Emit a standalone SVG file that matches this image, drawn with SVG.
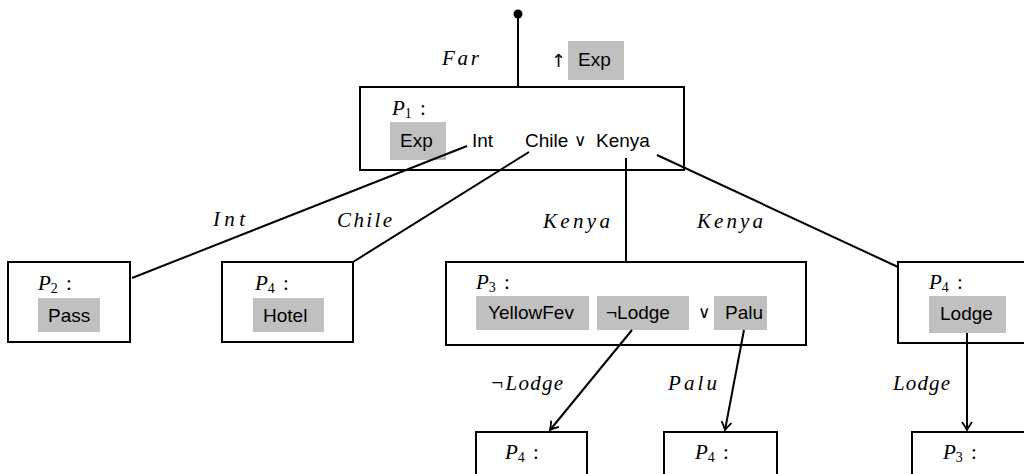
<svg xmlns="http://www.w3.org/2000/svg" width="1024" height="474" viewBox="0 0 1024 474">
<style>
.box{fill:#fff;stroke:#000;stroke-width:2}
.g{fill:#c0c0c0;stroke:none}
.s{font-family:"Liberation Sans",Arial,sans-serif;font-size:19px;fill:#000}
.m{font-family:"Liberation Serif","Times New Roman",serif;font-style:italic;font-size:21px;fill:#000}
.p{font-family:"Liberation Serif","Times New Roman",serif;font-size:21px;fill:#000}
.sub{font-size:14px}
.or{font-family:"DejaVu Sans",sans-serif;font-size:17px}
.e{stroke:#000;stroke-width:2;fill:none}
</style>
<defs>
<marker id="arr" markerUnits="userSpaceOnUse" markerWidth="16" markerHeight="16" viewBox="-10 -8 12 16" refX="0" refY="0" orient="auto">
<path d="M-8,-5 Q-3,-1.5 0,0 Q-3,1.5 -8,5" fill="none" stroke="#000" stroke-width="1.8"/>
</marker>
</defs>
<rect width="1024" height="474" fill="#fff"/>

<g id="P1">
<rect class="box" x="360" y="87" width="324" height="83"/>
<text class="p" x="392" y="115"><tspan font-style="italic">P</tspan><tspan class="sub" dy="3">1</tspan><tspan x="420" dy="-3">:</tspan></text>
<rect class="g" x="390" y="122" width="56" height="38"/>
<text class="s" x="400" y="147">Exp</text>
<text class="s" x="472" y="147">Int</text>
<text class="s" x="525" y="147">Chile</text>
<text class="or" x="574" y="146">∨</text>
<text class="s" x="596" y="147">Kenya</text>
</g>

<g id="P2">
<rect class="box" x="8" y="262" width="122" height="80"/>
<text class="p" x="38" y="290"><tspan font-style="italic">P</tspan><tspan class="sub" dy="3">2</tspan><tspan x="66" dy="-3">:</tspan></text>
<rect class="g" x="38" y="298" width="62" height="34"/>
<text class="s" x="48" y="322">Pass</text>
</g>

<g id="P4_hotel">
<rect class="box" x="222" y="262" width="131" height="80"/>
<text class="p" x="255" y="290"><tspan font-style="italic">P</tspan><tspan class="sub" dy="3">4</tspan><tspan x="283" dy="-3">:</tspan></text>
<rect class="g" x="253" y="298" width="71" height="34"/>
<text class="s" x="263" y="322">Hotel</text>
</g>

<g id="P3">
<rect class="box" x="446" y="262" width="360" height="83"/>
<text class="p" x="476" y="289"><tspan font-style="italic">P</tspan><tspan class="sub" dy="3">3</tspan><tspan x="504" dy="-3">:</tspan></text>
<rect class="g" x="476" y="296" width="113" height="34"/>
<text class="s" x="488" y="319">YellowFev</text>
<rect class="g" x="597" y="296" width="92" height="34"/>
<text class="s" x="606" y="319">¬Lodge</text>
<text class="or" x="698" y="318">∨</text>
<rect class="g" x="714" y="296" width="53" height="34"/>
<text class="s" x="725" y="319">Palu</text>
</g>

<g id="P4_lodge">
<rect class="box" x="898" y="262" width="140" height="81"/>
<text class="p" x="929" y="289"><tspan font-style="italic">P</tspan><tspan class="sub" dy="3">4</tspan><tspan x="957" dy="-3">:</tspan></text>
<rect class="g" x="929" y="296" width="77" height="37"/>
<text class="s" x="940" y="320">Lodge</text>
</g>

<g id="P4_a">
<rect class="box" x="476" y="432" width="111" height="60"/>
<text class="p" x="505" y="459"><tspan font-style="italic">P</tspan><tspan class="sub" dy="3">4</tspan><tspan x="533" dy="-3">:</tspan></text>
</g>

<g id="P4_b">
<rect class="box" x="664" y="432" width="113" height="60"/>
<text class="p" x="695" y="459"><tspan font-style="italic">P</tspan><tspan class="sub" dy="3">4</tspan><tspan x="723" dy="-3">:</tspan></text>
</g>

<g id="P3_b">
<rect class="box" x="912" y="432" width="130" height="60"/>
<text class="p" x="943" y="459"><tspan font-style="italic">P</tspan><tspan class="sub" dy="3">3</tspan><tspan x="971" dy="-3">:</tspan></text>
</g>

<g id="connectors">
<circle cx="518" cy="14" r="4.5" fill="#000"/>
<line class="e" x1="518" y1="14" x2="518" y2="87"/>
<line class="e" x1="467" y1="146" x2="132" y2="278"/>
<line class="e" x1="529" y1="152" x2="353" y2="262"/>
<line class="e" x1="626" y1="158" x2="626" y2="262"/>
<line class="e" x1="657" y1="155" x2="898" y2="267"/>
<line class="e" x1="632" y1="330" x2="550" y2="430" marker-end="url(#arr)"/>
<line class="e" x1="744" y1="330" x2="725" y2="430" marker-end="url(#arr)"/>
<line class="e" x1="967" y1="333" x2="967" y2="430" marker-end="url(#arr)"/>
<text class="m" x="442" y="65" textLength="37" lengthAdjust="spacing">Far</text>
<text x="551" y="67" style="font-family:'DejaVu Sans',sans-serif;font-size:18px">↑</text>
<rect class="g" x="568" y="41" width="56" height="39"/>
<text class="s" x="578" y="66">Exp</text>
<text class="m" x="213" y="226" textLength="32" lengthAdjust="spacing">Int</text>
<text class="m" x="337" y="227" textLength="55" lengthAdjust="spacing">Chile</text>
<text class="m" x="543" y="228" textLength="67" lengthAdjust="spacing">Kenya</text>
<text class="m" x="697" y="228" textLength="66" lengthAdjust="spacing">Kenya</text>
<text class="m" x="490" y="390" textLength="73" lengthAdjust="spacing">¬Lodge</text>
<text class="m" x="668" y="390" textLength="49" lengthAdjust="spacing">Palu</text>
<text class="m" x="893" y="390" textLength="57" lengthAdjust="spacing">Lodge</text>
</g>
</svg>
